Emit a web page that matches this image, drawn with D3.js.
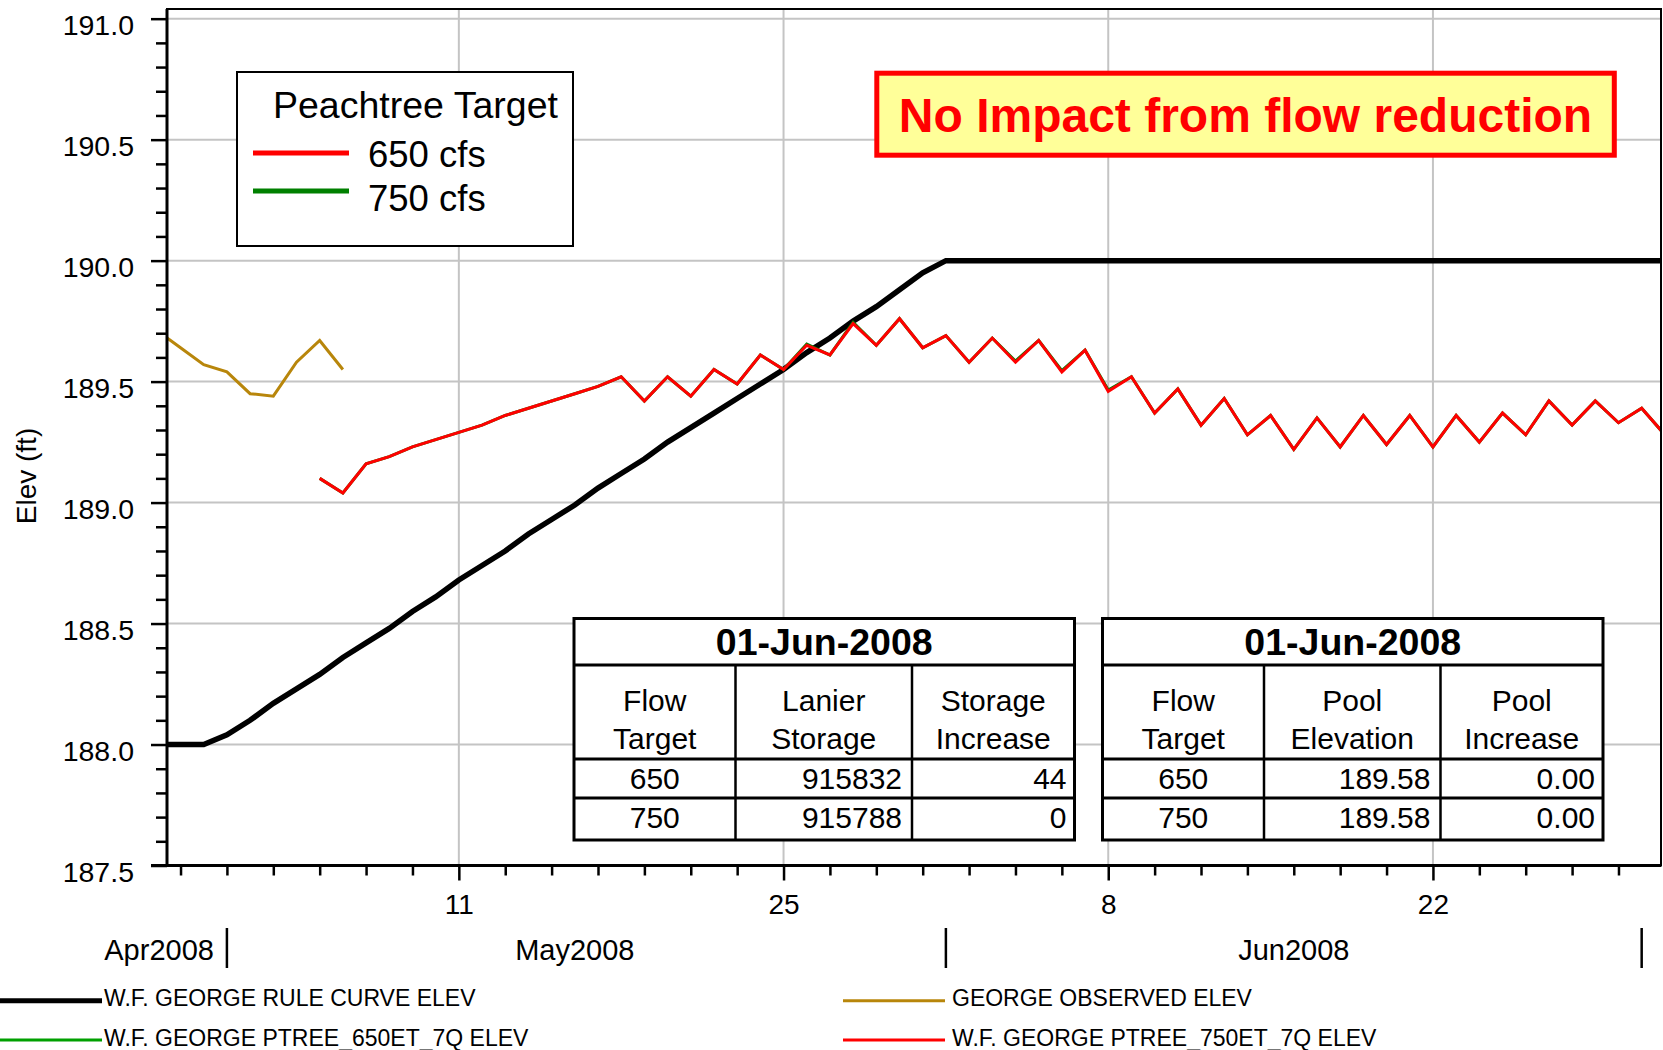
<!DOCTYPE html>
<html>
<head>
<meta charset="utf-8">
<script src="https://cdn.jsdelivr.net/npm/d3@7"></script>
<style>
  body { margin: 0; background: #fff; }
  svg text { font-family: "Liberation Sans", Arial, sans-serif; }
</style>
</head>
<body>
<div id="chart"></div>
<script>
// daily series, first value on the given start date
var ruleStart = '2008-04-28';
var ruleCurve = [188.00, 188.00, 188.00,
  188.04, 188.10, 188.17, 188.23, 188.29, 188.36, 188.42, 188.48, 188.55, 188.61,
  188.68, 188.74, 188.80, 188.87, 188.93, 188.99, 189.06, 189.12, 189.18, 189.25,
  189.31, 189.37, 189.43, 189.49, 189.55, 189.62, 189.68, 189.75, 189.81, 189.88,
  189.95, 190.00,
  190.00, 190.00, 190.00, 190.00, 190.00, 190.00, 190.00, 190.00, 190.00, 190.00,
  190.00, 190.00, 190.00, 190.00, 190.00, 190.00, 190.00, 190.00, 190.00, 190.00,
  190.00, 190.00, 190.00, 190.00, 190.00, 190.00, 190.00, 190.00, 190.00, 190.00, 190.00];

var observedStart = '2008-04-28';
var observed = [189.71, 189.64, 189.57, 189.54, 189.45, 189.44, 189.58, 189.67, 189.55];

var ptreeStart = '2008-05-05';
var ptree650 = [189.100, 189.040, 189.160, 189.190, 189.230, 189.260, 189.290, 189.320, 189.360, 189.390,
  189.420, 189.450, 189.480, 189.520, 189.420, 189.520, 189.440, 189.550, 189.490, 189.610,
  189.550, 189.655, 189.610, 189.745, 189.650, 189.760, 189.640, 189.690, 189.580, 189.680,
  189.585, 189.670, 189.545, 189.630, 189.465, 189.520, 189.370, 189.470, 189.320, 189.430,
  189.280, 189.360, 189.220, 189.350, 189.230, 189.360, 189.240, 189.360, 189.230, 189.360,
  189.250, 189.370, 189.280, 189.420, 189.320, 189.420, 189.330, 189.390, 189.280];
var ptree750 = [189.10, 189.04, 189.16, 189.19, 189.23, 189.26, 189.29, 189.32, 189.36, 189.39,
  189.42, 189.45, 189.48, 189.52, 189.42, 189.52, 189.44, 189.55, 189.49, 189.61,
  189.55, 189.65, 189.61, 189.74, 189.65, 189.76, 189.64, 189.69, 189.58, 189.68,
  189.58, 189.67, 189.54, 189.63, 189.46, 189.52, 189.37, 189.47, 189.32, 189.43,
  189.28, 189.36, 189.22, 189.35, 189.23, 189.36, 189.24, 189.36, 189.23, 189.36,
  189.25, 189.37, 189.28, 189.42, 189.32, 189.42, 189.33, 189.39, 189.28];

var yTicks = [187.5, 188.0, 188.5, 189.0, 189.5, 190.0, 190.5, 191.0];
var dayLabels = ['2008-05-11', '2008-05-25', '2008-06-08', '2008-06-22'];
var months = ['Apr2008', 'May2008', 'Jun2008'];
var monthStarts = ['2008-05-01', '2008-06-01', '2008-07-01'];

var legendTitle = 'Peachtree Target';
var legendItems = ['650 cfs', '750 cfs'];
var note = 'No Impact from flow reduction';

var tableDate = '01-Jun-2008';
var storageHead = [['Flow', 'Target'], ['Lanier', 'Storage'], ['Storage', 'Increase']];
var storageRows = [['650', '915832', '44'], ['750', '915788', '0']];
var poolHead = [['Flow', 'Target'], ['Pool', 'Elevation'], ['Pool', 'Increase']];
var poolRows = [['650', '189.58', '0.00'], ['750', '189.58', '0.00']];

var seriesNames = ['W.F. GEORGE RULE CURVE ELEV', 'GEORGE OBSERVED ELEV',
  'W.F. GEORGE PTREE_650ET_7Q ELEV', 'W.F. GEORGE PTREE_750ET_7Q ELEV'];

var parse = d3.utcParse('%Y-%m-%d');
var fmtDay = d3.utcFormat('%Y-%m-%d');
function daily(start, values) {
  var t0 = parse(start);
  return values.map(function(v, i) {
    return {date: d3.utcDay.offset(t0, i), value: v};
  });
}

var W = 1663, H = 1050;
// note: window.top is read-only, so keep plot edges in one object
var pa = {left: 167, right: 1661, top: 9, bottom: 865.5};

var svg = d3.select('#chart').append('svg')
  .attr('width', W)
  .attr('height', H);

var x = d3.scaleUtc()
  .domain([new Date(Date.UTC(2008, 3, 28, 10)), new Date(Date.UTC(2008, 6, 1, 20))])
  .range([pa.left, pa.right]);
var y = d3.scaleLinear()
  .domain([187.5, 191.04])
  .range([pa.bottom, pa.top]);

svg.append('defs').append('clipPath').attr('id', 'clip')
  .append('rect')
  .attr('x', pa.left).attr('y', pa.top)
  .attr('width', pa.right - pa.left).attr('height', pa.bottom - pa.top);

// grid
var grid = svg.append('g').attr('stroke', '#c4c4c4').attr('stroke-width', 2);
grid.selectAll('.hg')
  .data(yTicks.slice(1))
  .enter().append('line')
  .attr('x1', pa.left).attr('x2', pa.right)
  .attr('y1', function(d) { return y(d); })
  .attr('y2', function(d) { return y(d); });
grid.selectAll('.vg')
  .data(dayLabels.map(parse))
  .enter().append('line')
  .attr('y1', pa.top).attr('y2', pa.bottom)
  .attr('x1', function(d) { return x(d); })
  .attr('x2', function(d) { return x(d); });

// series
var line = d3.line()
  .x(function(d) { return x(d.date); })
  .y(function(d) { return y(d.value); });
var plot = svg.append('g').attr('clip-path', 'url(#clip)').attr('fill', 'none');
plot.append('path').datum(daily(observedStart, observed))
  .attr('d', line).attr('stroke', '#b8860b').attr('stroke-width', 3);
plot.append('path').datum(daily(ruleStart, ruleCurve))
  .attr('d', line).attr('stroke', '#000').attr('stroke-width', 5.5);
plot.append('path').datum(daily(ptreeStart, ptree650))
  .attr('d', line).attr('stroke', '#008000').attr('stroke-width', 3);
plot.append('path').datum(daily(ptreeStart, ptree750))
  .attr('d', line).attr('stroke', '#ff0000').attr('stroke-width', 3);

// frame
svg.append('rect')
  .attr('x', pa.left).attr('y', pa.top)
  .attr('width', pa.right - pa.left).attr('height', pa.bottom - pa.top)
  .attr('fill', 'none').attr('stroke', '#000').attr('stroke-width', 2);

// y axis
var minorY = d3.range(1875, 1911).map(function(d) { return d / 10; })
  .filter(function(d) { return Math.round(d * 10) % 5 !== 0; });
svg.append('g').attr('transform', 'translate(' + pa.left + ',0)')
  .call(d3.axisLeft(y).tickValues(minorY).tickSize(11).tickFormat('').tickSizeOuter(0))
  .call(function(g) { g.select('.domain').remove(); })
  .selectAll('line').attr('stroke-width', 2.5);
var yAxis = svg.append('g').attr('transform', 'translate(' + pa.left + ',0)')
  .call(d3.axisLeft(y).tickValues(yTicks).tickSize(16).tickPadding(17)
    .tickFormat(d3.format('.1f')).tickSizeOuter(0));
yAxis.select('.domain').remove();
yAxis.selectAll('line').attr('stroke-width', 2.5);
yAxis.selectAll('text').attr('font-size', 28.5).attr('dy', '0.57em').attr('fill', '#000');
svg.append('line')
  .attr('x1', pa.left).attr('x2', pa.left).attr('y1', pa.top).attr('y2', pa.bottom + 1)
  .attr('stroke', '#000').attr('stroke-width', 3);

// x axis: a tick every two days, longer ones with labels
var twoDay = [];
for (var t = parse('2008-04-29'); t < parse('2008-07-01'); t = d3.utcDay.offset(t, 2)) {
  if (dayLabels.indexOf(fmtDay(t)) < 0) twoDay.push(t);
}
svg.append('g').attr('transform', 'translate(0,' + pa.bottom + ')')
  .call(d3.axisBottom(x).tickValues(twoDay).tickSize(10).tickFormat('').tickSizeOuter(0))
  .call(function(g) { g.select('.domain').remove(); })
  .selectAll('line').attr('stroke-width', 2.5);
var xAxis = svg.append('g').attr('transform', 'translate(0,' + pa.bottom + ')')
  .call(d3.axisBottom(x).tickValues(dayLabels.map(parse)).tickSize(15).tickPadding(14)
    .tickFormat(d3.utcFormat('%-d')).tickSizeOuter(0));
xAxis.select('.domain').remove();
xAxis.selectAll('line').attr('stroke-width', 2.5);
xAxis.selectAll('text').attr('font-size', 28).attr('fill', '#000');
svg.append('line')
  .attr('x1', pa.left - 16).attr('x2', pa.right).attr('y1', pa.bottom).attr('y2', pa.bottom)
  .attr('stroke', '#000').attr('stroke-width', 3);

// months
svg.selectAll('.mbar')
  .data(monthStarts.map(parse))
  .enter().append('line')
  .attr('x1', function(d) { return x(d); })
  .attr('x2', function(d) { return x(d); })
  .attr('y1', 928).attr('y2', 968)
  .attr('stroke', '#000').attr('stroke-width', 2.5);
svg.selectAll('.mlab')
  .data(months)
  .enter().append('text')
  .attr('x', function(d, i) {
    if (i === 0) return x(parse(monthStarts[0])) - 13;
    return x(d3.utcDay.offset(parse(monthStarts[i - 1]), 15));
  })
  .attr('y', 960)
  .attr('text-anchor', function(d, i) { return i === 0 ? 'end' : 'middle'; })
  .attr('font-size', 29)
  .text(function(d) { return d; });

svg.append('text')
  .attr('transform', 'translate(36,476) rotate(-90)')
  .attr('text-anchor', 'middle')
  .attr('font-size', 28)
  .text('Elev (ft)');

// legend box
var lg = svg.append('g');
lg.append('rect')
  .attr('x', 237).attr('y', 72).attr('width', 336).attr('height', 174)
  .attr('fill', '#fff').attr('stroke', '#000').attr('stroke-width', 2);
lg.append('text').attr('x', 273).attr('y', 118).attr('font-size', 37.5).text(legendTitle);
lg.selectAll('.li')
  .data(legendItems)
  .enter().append('line')
  .attr('x1', 253).attr('x2', 349)
  .attr('y1', function(d, i) { return 153 + i * 38; })
  .attr('y2', function(d, i) { return 153 + i * 38; })
  .attr('stroke', function(d, i) { return i === 0 ? '#ff0000' : '#008000'; })
  .attr('stroke-width', 5);
lg.selectAll('.lt')
  .data(legendItems)
  .enter().append('text')
  .attr('x', 368)
  .attr('y', function(d, i) { return 167 + i * 44; })
  .attr('font-size', 36.5)
  .text(function(d) { return d; });

// note box
svg.append('rect')
  .attr('x', 876.8).attr('y', 73.2).attr('width', 737.5).attr('height', 82)
  .attr('fill', '#ffff99').attr('stroke', '#ff0000').attr('stroke-width', 5);
svg.append('text')
  .attr('x', 1245.5).attr('y', 131.7)
  .attr('text-anchor', 'middle')
  .attr('font-size', 48).attr('font-weight', 'bold').attr('fill', '#ff0000')
  .text(note);

// tables
function drawTable(x0, head, rows) {
  var cw = [161.5, 176.5, 162.5];
  var cx = [x0, x0 + cw[0], x0 + cw[0] + cw[1], x0 + cw[0] + cw[1] + cw[2]];
  var yTop = 618.5, yHead = 665, yCol = 759, yRow = 798, yBot = 840;
  var g = svg.append('g');
  g.append('rect')
    .attr('x', x0).attr('y', yTop).attr('width', cx[3] - x0).attr('height', yBot - yTop)
    .attr('fill', '#fff').attr('stroke', '#000').attr('stroke-width', 3);
  g.selectAll('.hl')
    .data([yHead, yCol, yRow])
    .enter().append('line')
    .attr('x1', x0).attr('x2', cx[3])
    .attr('y1', function(d) { return d; }).attr('y2', function(d) { return d; })
    .attr('stroke', '#000').attr('stroke-width', 3);
  g.selectAll('.vl')
    .data([cx[1], cx[2]])
    .enter().append('line')
    .attr('x1', function(d) { return d; }).attr('x2', function(d) { return d; })
    .attr('y1', yHead).attr('y2', yBot)
    .attr('stroke', '#000').attr('stroke-width', 2.5);
  g.append('text')
    .attr('x', (x0 + cx[3]) / 2).attr('y', 655)
    .attr('text-anchor', 'middle').attr('font-size', 37.5).attr('font-weight', 'bold')
    .text(tableDate);
  head.forEach(function(h, i) {
    h.forEach(function(s, j) {
      g.append('text')
        .attr('x', (cx[i] + cx[i + 1]) / 2).attr('y', 711 + j * 38)
        .attr('text-anchor', 'middle').attr('font-size', 30)
        .text(s);
    });
  });
  rows.forEach(function(r, k) {
    r.forEach(function(s, i) {
      g.append('text')
        .attr('x', i === 0 ? (cx[0] + cx[1]) / 2 : cx[i + 1] - (i === 1 ? 10 : 8))
        .attr('y', 789 + k * 39)
        .attr('text-anchor', i === 0 ? 'middle' : 'end')
        .attr('font-size', 30)
        .text(s);
    });
  });
}
drawTable(574, storageHead, storageRows);
drawTable(1102.5, poolHead, poolRows);

// series legend
var key = [
  {x: 0, y: 1000.7, c: '#000', w: 5},
  {x: 843, y: 1000.7, c: '#b8860b', w: 3},
  {x: 0, y: 1040, c: '#00a000', w: 3},
  {x: 843, y: 1040, c: '#ff0000', w: 3}
];
var kg = svg.append('g');
kg.selectAll('line')
  .data(key)
  .enter().append('line')
  .attr('x1', function(d) { return d.x; })
  .attr('x2', function(d) { return d.x + 102; })
  .attr('y1', function(d) { return d.y; })
  .attr('y2', function(d) { return d.y; })
  .attr('stroke', function(d) { return d.c; })
  .attr('stroke-width', function(d) { return d.w; });
kg.selectAll('text')
  .data(key)
  .enter().append('text')
  .attr('x', function(d) { return d.x + (d.x === 0 ? 104 : 109); })
  .attr('y', function(d) { return d.y + 5.5; })
  .attr('font-size', 23)
  .text(function(d, i) { return seriesNames[i]; });
</script>
</body>
</html>
